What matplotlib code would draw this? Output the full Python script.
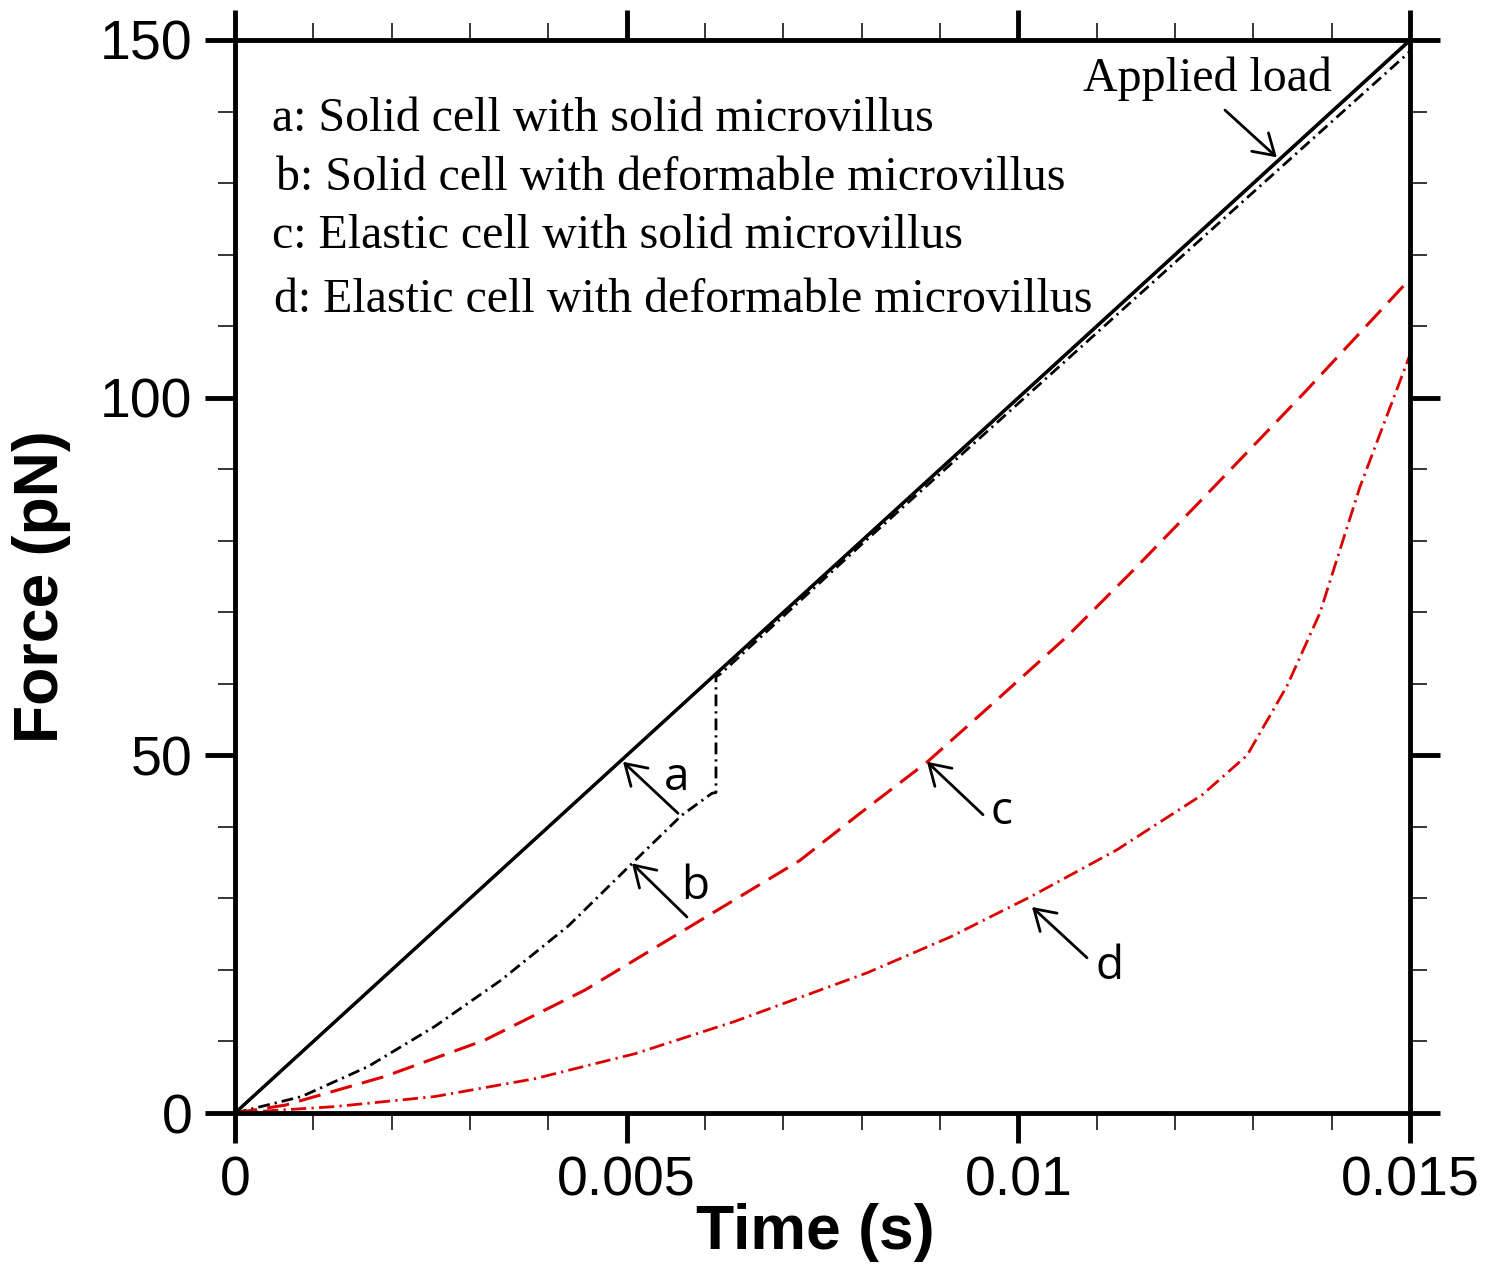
import matplotlib
matplotlib.use("Agg")
import matplotlib.pyplot as plt
from matplotlib.ticker import MultipleLocator

plt.rcParams['lines.scale_dashes'] = False

# ---------------- data ----------------
load_t = [0.0, 0.015]
load_f = [0.0, 150.0]

a_t = [0.0, 0.015]
a_f = [0.0, 149.9]

b_t = [0.0, 0.00085, 0.0017, 0.00255, 0.0034, 0.00426, 0.00507, 0.0057, 0.00609,
       0.00614, 0.00614, 0.0062, 0.0080, 0.0100, 0.0120, 0.0150]
b_f = [0.0, 2.3, 6.5, 12.1, 18.6, 26.2, 34.9, 41.6, 44.7,
       44.8, 61.0, 61.4, 79.5, 99.2, 118.9, 148.4]

c_t = [0.0, 0.00064, 0.00191, 0.00319, 0.00447, 0.00574, 0.00721, 0.00798, 0.00884,
       0.0097, 0.01062, 0.01147, 0.01232, 0.01366, 0.0150]
c_f = [0.0, 1.1, 5.1, 10.2, 17.2, 25.6, 35.3, 41.9, 49.1,
       57.5, 66.6, 75.9, 85.5, 100.8, 116.6]

d_t = [0.0, 0.00128, 0.00255, 0.00383, 0.00511, 0.00638, 0.00807, 0.00913,
       0.01015, 0.01126, 0.01235, 0.01292, 0.01343, 0.01385, 0.01436, 0.0150]
d_f = [0.0, 0.9, 2.3, 4.8, 8.3, 12.8, 19.6, 24.6,
       30.2, 36.8, 44.5, 50.0, 59.7, 69.9, 87.5, 106.0]

legend_lines = ["a: Solid cell with solid microvillus",
                "b: Solid cell with deformable microvillus",
                "c: Elastic cell with solid microvillus",
                "d: Elastic cell with deformable microvillus"]

x_major = [0, 0.005, 0.01, 0.015]
x_labels = ["0", "0.005", "0.01", "0.015"]
y_major = [0, 50, 100, 150]
y_labels = ["0", "50", "100", "150"]

RED = '#dd0000'

# ---------------- figure ----------------
fig = plt.figure(figsize=(14.88, 12.73), dpi=100)
ax = fig.add_axes([235/1488, 1 - 1113/1273, 1175/1488, 1073/1273])

ax.plot(load_t, load_f, color='black', lw=2.4)
ax.plot(a_t, a_f, color='black', lw=2.0)
ax.plot(b_t, b_f, color='black', lw=2.0, dashes=(8.5, 3.6, 1.6, 3.6))
ax.plot(c_t, c_f, color=RED, lw=2.2, dashes=(16, 7.5))
ax.plot(d_t, d_f, color=RED, lw=2.0, dashes=(11, 3.8, 1.6, 3.8))

ax.set_xlim(0, 0.015)
ax.set_ylim(0, 150)

ax.set_xticks(x_major)
ax.set_xticklabels(x_labels)
ax.xaxis.set_minor_locator(MultipleLocator(0.001))
ax.set_yticks(y_major)
ax.set_yticklabels(y_labels)
ax.yaxis.set_minor_locator(MultipleLocator(10))

for s in ax.spines.values():
    s.set_linewidth(3.5)

ax.tick_params(which='major', direction='out', length=21.6, width=3.5,
               top=True, right=True, labelsize=40, pad=9)
ax.tick_params(which='minor', direction='out', length=12, width=1.1,
               top=True, right=True)
for lab in ax.get_xticklabels() + ax.get_yticklabels():
    lab.set_family('Liberation Sans')

ax.set_xlabel('Time (s)', fontsize=45, fontweight='bold', family='Liberation Sans',
              va='center')
ax.xaxis.set_label_coords((815 - 235) / 1175, (1113 - 1233) / 1073)
ax.set_ylabel('Force (pN)', fontsize=45, fontweight='bold', family='Liberation Sans',
              va='center')
ax.yaxis.set_label_coords((42 - 235) / 1175, (1113 - 587) / 1073)

# legend-style text lines
leg_x = [0.000472, 0.000523, 0.000472, 0.000498]
leg_y = [138.9, 130.7, 122.6, 113.6]
for tx, ty, s in zip(leg_x, leg_y, legend_lines):
    ax.text(tx, ty, s, fontsize=34.5, family='Liberation Serif', ha='left', va='center')

ax.text(0.012409, 144.6, 'Applied load', fontsize=34.5, family='Liberation Serif',
        ha='center', va='center')

arrow_kw = dict(arrowstyle='->,head_length=0.45,head_width=0.28', lw=2.0,
                color='black', mutation_scale=32, shrinkA=0, shrinkB=0)

ax.annotate('', xy=(0.0133, 133.6), xytext=(0.012638, 140.2), arrowprops=arrow_kw)

# curve labels with arrows
lbl_txt = ['a', 'b', 'c', 'd']
lbl_pos = [(0.005643, 46.8), (0.00587, 31.6), (0.009791, 42.1), (0.01117, 20.4)]
arr_head = [(0.004953, 49.1), (0.005068, 34.9), (0.008834, 49.1), (0.010174, 28.8)]
arr_tail = [(0.005655, 41.9), (0.00577, 27.4), (0.009549, 41.7), (0.010877, 21.7)]
for t, p, h, tl in zip(lbl_txt, lbl_pos, arr_head, arr_tail):
    ax.annotate('', xy=h, xytext=tl, arrowprops=arrow_kw)
    ax.text(p[0], p[1], t, fontsize=33, family='Open Sans', ha='center', va='center')

fig.savefig('out.png', dpi=100)
